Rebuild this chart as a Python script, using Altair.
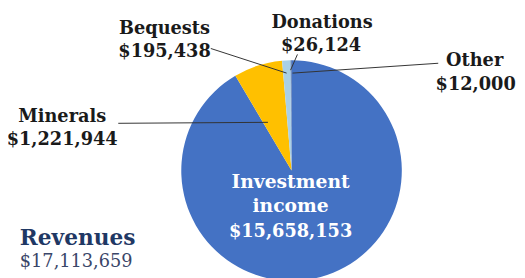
import altair as alt
import pandas as pd

categories = ["Investment income", "Minerals", "Bequests", "Donations", "Other"]
values = [15658153, 1221944, 195438, 26124, 12000]
colors = ["#4472C4", "#FFC000", "#A9D0E6", "#8FB4D9", "#2E4F8F"]
total = sum(values)

def money(v):
    return "${:,}".format(v)

df = pd.DataFrame({"category": categories, "value": values, "rank": list(range(len(values)))})

M = 8  # page margin; plot coordinates = page coordinates - 8
CX, CY, R = 296 - M, 171 - M, 112
SERIF = "DejaVu Serif"

pie = alt.Chart(df).mark_arc(radius=R, stroke=None).encode(
    theta=alt.Theta("value:Q", stack=True),
    order=alt.Order("rank:Q"),
    color=alt.Color("category:N", scale=alt.Scale(domain=categories, range=colors), legend=None),
    x=alt.value(CX),
    y=alt.value(CY),
)

base = alt.Chart(pd.DataFrame({"a": [0]}))

def txt(s, x, y, size=18, color="#1a1a1a", weight="bold", font=SERIF, align="center"):
    return base.mark_text(font=font, fontSize=size, fontWeight=weight, color=color,
                          align=align, baseline="alphabetic").encode(
        x=alt.value(x - M), y=alt.value(y - M), text=alt.value(s))

def rule(x1, y1, x2, y2):
    return base.mark_rule(color="#333333", strokeWidth=1).encode(
        x=alt.value(x1 - M), y=alt.value(y1 - M), x2=alt.value(x2 - M), y2=alt.value(y2 - M))

layers = [
    pie,
    rule(120, 123, 272, 122),
    rule(214, 47, 291, 72),
    rule(295, 69, 302, 53),
    rule(297, 72, 445, 62),
    txt(categories[1], 63, 122),
    txt(money(values[1]), 63, 145),
    txt(categories[2], 167, 32),
    txt(money(values[2]), 167, 56),
    txt(categories[3], 327, 26),
    txt(money(values[3]), 326, 50),
    txt(categories[4], 482, 65),
    txt(money(values[4]), 483, 89),
    txt("Investment", 295, 189, size=19, color="white"),
    txt("income", 295, 213, size=19, color="white"),
    txt(money(values[0]), 295, 238, size=18, color="white"),
    txt("Revenues", 20, 247, size=22, color="#1F3864", align="left"),
    txt(money(total), 20, 269, size=18, color="#3A4668", weight="normal", align="left"),
]

chart = alt.layer(*layers).properties(
    width=517, height=270, autosize="none", padding=0
).configure_view(stroke=None)

chart.save("out.html", embed_options={"renderer": "svg", "actions": False})
